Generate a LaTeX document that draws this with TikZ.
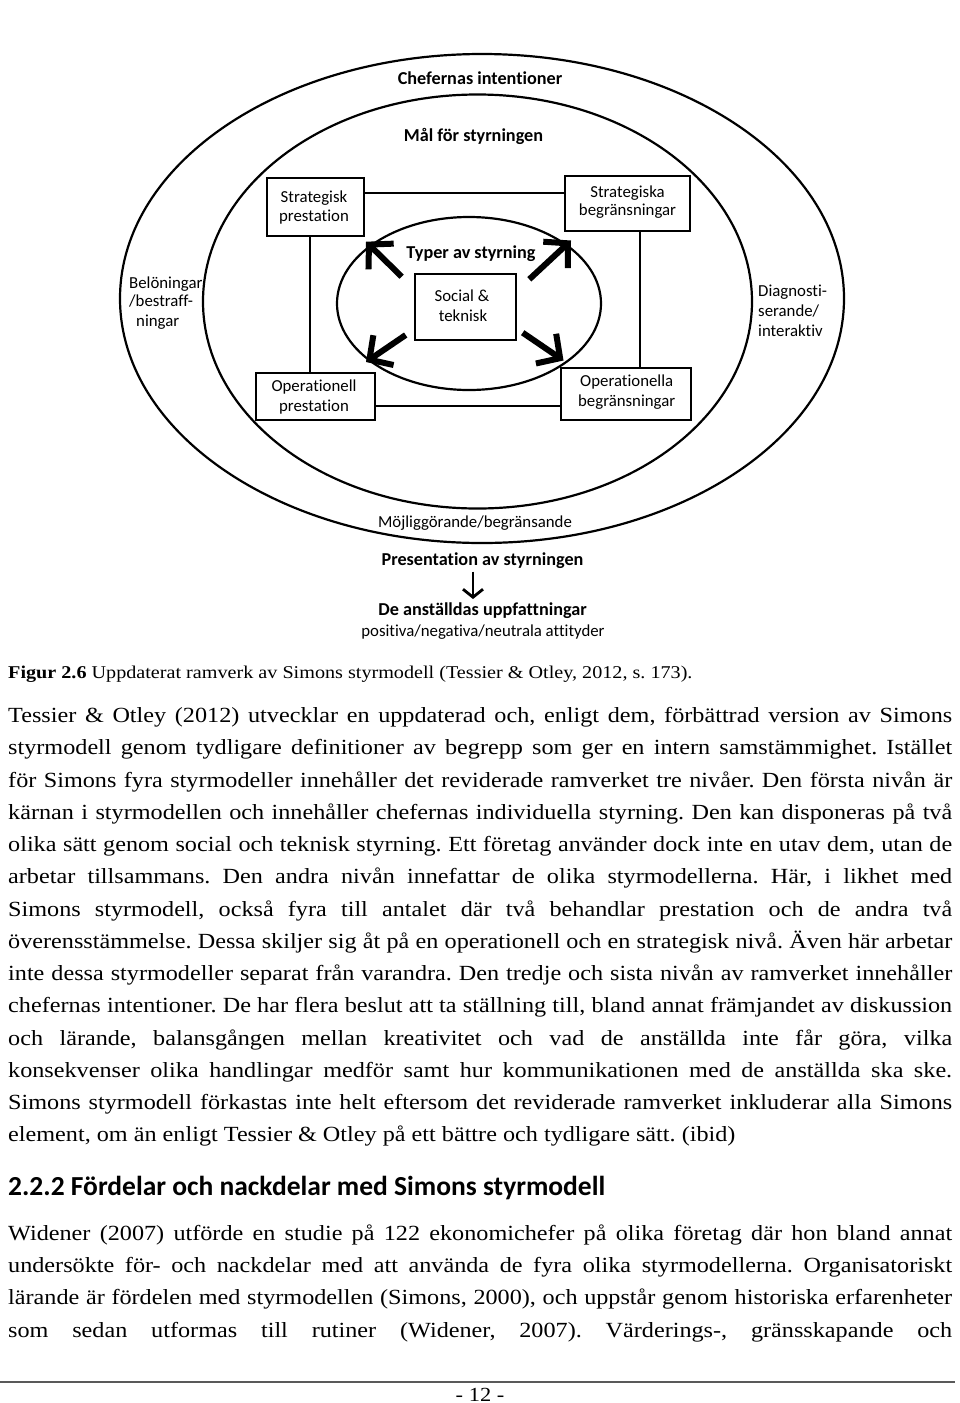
\documentclass[tikz,border=0pt]{standalone}
\usepackage{fontspec}
\setmainfont{Liberation Serif}[FakeStretch=1.12]
\newfontfamily\diagfont{Carlito}[Ligatures=NoCommon]
\usetikzlibrary{arrows.meta}
\frenchspacing
\tikzset{
  lbl/.style={inner sep=0, anchor=base, font=\diagfont\fontsize{16.8}{19}\selectfont},
  blbl/.style={inner sep=0, anchor=base, font=\diagfont\bfseries\fontsize{18.2}{20}\selectfont},
  boxnode/.style={draw, line width=2.3pt, inner sep=0, rectangle},
  ring/.style={draw, line width=2.2pt},
  conn/.style={draw, line width=1.9pt},
  bigarrow/.style={line width=6pt, -{Straight Barb[length=17pt,width=36pt]}},
  downarrow/.style={line width=2.8pt, -{Straight Barb[length=8pt,width=20pt]}},
  bodyline/.style={inner sep=0, anchor=base west, font=\fontsize{21.6}{26}\selectfont},
  capline/.style={inner sep=0, anchor=base west, font=\fontsize{18}{22}\selectfont},
}
\begin{document}
\begin{tikzpicture}[x=1pt,y=-1pt]
\useasboundingbox (0,0) rectangle (960,1403);
\fill[white] (0,0) rectangle (960,1403);

% ---------- diagram ----------
\draw[ring] (482,298.5) ellipse [x radius=362, y radius=244.5];
\draw[ring] (477.5,301.5) ellipse [x radius=274.5, y radius=207];
\draw[ring] (469,303.5) ellipse [x radius=132, y radius=86.5];

\node[blbl] (chef) at (480,84) {Chefernas intentioner};
\node[blbl] (mal) at (473.5,141.7) {Mål för styrningen};
\node[blbl] (typer) at (471,258.3) {Typer av styrning};

\node[boxnode, minimum width=97pt, minimum height=58pt] (sp) at (315.5,207) {};
\node[boxnode, minimum width=125pt, minimum height=55pt] (sb) at (627.5,203.5) {};
\node[boxnode, minimum width=119pt, minimum height=47pt] (op) at (315.5,396.5) {};
\node[boxnode, minimum width=130pt, minimum height=52pt] (ob) at (626,394) {};
\node[boxnode, minimum width=101pt, minimum height=66pt] (soc) at (465.5,307) {};

\node[lbl] (sp1) at (314,202.7) {Strategisk};
\node[lbl] (sp2) at (314,221) {prestation};
\node[lbl] (sb1) at (627.5,197.3) {Strategiska};
\node[lbl] (sb2) at (627.5,215.5) {begränsningar};
\node[lbl] (op1) at (314,391.7) {Operationell};
\node[lbl] (op2) at (314,411.7) {prestation};
\node[lbl] (ob1) at (626.7,386.7) {Operationella};
\node[lbl] (ob2) at (626.7,406.7) {begränsningar};
\node[lbl] (soc1) at (462,301.7) {Social \&};
\node[lbl] (soc2) at (463,321.7) {teknisk};

\draw[conn] (sp.east |- 0,193.3) -- (sb.west |- 0,193.3);
\draw[conn] (op.east |- 0,406) -- (ob.west |- 0,406);
\draw[conn] (sp.south -| 310,0) -- (op.north -| 310,0);
\draw[conn] (sb.south -| 640,0) -- (ob.north -| 640,0);

\coordinate (nwt) at (401.7,276.7);
\coordinate (nwh) at (366,241.7);
\coordinate (net) at (529.3,279.3);
\coordinate (neh) at (571,240.5);
\coordinate (swt) at (405.7,335);
\coordinate (swh) at (366,362);
\coordinate (set) at (522.7,332.7);
\coordinate (seh) at (563.5,360.5);
\draw[bigarrow] (nwt) -- (nwh);
\draw[bigarrow] (net) -- (neh);
\draw[bigarrow] (swt) -- (swh);
\draw[bigarrow] (set) -- (seh);

\node[lbl, anchor=base west] (bel1) at (129,288.3) {Belöningar};
\node[lbl, anchor=base west] (bel2) at (129,306.7) {/bestraff-};
\node[lbl, anchor=base west] (bel3) at (136,326.7) {ningar};
\node[lbl, anchor=base west] (dia1) at (758,296.7) {Diagnosti-};
\node[lbl, anchor=base west] (dia2) at (758,316.7) {serande/};
\node[lbl, anchor=base west] (dia3) at (758,336.7) {interaktiv};

\node[lbl] (moj) at (475,527.3) {Möjliggörande/begränsande};
\node[blbl] (pres) at (482.5,565) {Presentation av styrningen};
\coordinate (dat) at (473,571.5);
\coordinate (dah) at (473,599);
\draw[downarrow] (dat) -- (dah);
\node[blbl] (anst) at (482.5,615) {De anställdas uppfattningar};
\node[lbl] (att) at (483,636) {positiva/negativa/neutrala attityder};

% ---------- caption ----------
\node[capline] (cap) at (8,678.7) {\textbf{Figur 2.6} Uppdaterat ramverk av Simons styrmodell (Tessier \& Otley, 2012, s. 173).};

% ---------- paragraph 1 ----------
\node[bodyline] (l1) at (8,722.7) {\makebox[944pt][s]{Tessier \& Otley (2012) utvecklar en uppdaterad och, enligt dem, förbättrad version av Simons}};
\node[bodyline] (l2) at (8,754.95) {\makebox[944pt][s]{styrmodell genom tydligare definitioner av begrepp som ger en intern samstämmighet. Istället}};
\node[bodyline] (l3) at (8,787.2) {\makebox[944pt][s]{för Simons fyra styrmodeller innehåller det reviderade ramverket tre nivåer. Den första nivån är}};
\node[bodyline] (l4) at (8,819.45) {\makebox[944pt][s]{kärnan i styrmodellen och innehåller chefernas individuella styrning. Den kan disponeras på två}};
\node[bodyline] (l5) at (8,851.7) {\makebox[944pt][s]{olika sätt genom social och teknisk styrning. Ett företag använder dock inte en utav dem, utan de}};
\node[bodyline] (l6) at (8,883.95) {\makebox[944pt][s]{arbetar tillsammans. Den andra nivån innefattar de olika styrmodellerna. Här, i likhet med}};
\node[bodyline] (l7) at (8,916.2) {\makebox[944pt][s]{Simons styrmodell, också fyra till antalet där två behandlar prestation och de andra två}};
\node[bodyline] (l8) at (8,948.45) {\makebox[944pt][s]{överensstämmelse. Dessa skiljer sig åt på en operationell och en strategisk nivå. Även här arbetar}};
\node[bodyline] (l9) at (8,980.7) {\makebox[944pt][s]{inte dessa styrmodeller separat från varandra. Den tredje och sista nivån av ramverket innehåller}};
\node[bodyline] (l10) at (8,1012.95) {\makebox[944pt][s]{chefernas intentioner. De har flera beslut att ta ställning till, bland annat främjandet av diskussion}};
\node[bodyline] (l11) at (8,1045.2) {\makebox[944pt][s]{och lärande, balansgången mellan kreativitet och vad de anställda inte får göra, vilka}};
\node[bodyline] (l12) at (8,1077.45) {\makebox[944pt][s]{konsekvenser olika handlingar medför samt hur kommunikationen med de anställda ska ske.}};
\node[bodyline] (l13) at (8,1109.7) {\makebox[944pt][s]{Simons styrmodell förkastas inte helt eftersom det reviderade ramverket inkluderar alla Simons}};
\node[bodyline] (l14) at (8,1141.95) {element, om än enligt Tessier \& Otley på ett bättre och tydligare sätt. (ibid)};

% ---------- heading ----------
\node[inner sep=0, anchor=base west, font=\diagfont\bfseries\fontsize{27.5}{30}\selectfont] (head) at (8,1195) {2.2.2 Fördelar och nackdelar med Simons styrmodell};

% ---------- paragraph 2 ----------
\node[bodyline] (m1) at (8,1240) {\makebox[944pt][s]{Widener (2007) utförde en studie på 122 ekonomichefer på olika företag där hon bland annat}};
\node[bodyline] (m2) at (8,1272.4) {\makebox[944pt][s]{undersökte för- och nackdelar med att använda de fyra olika styrmodellerna. Organisatoriskt}};
\node[bodyline] (m3) at (8,1304.8) {\makebox[944pt][s]{lärande är fördelen med styrmodellen (Simons, 2000), och uppstår genom historiska erfarenheter}};
\node[bodyline] (m4) at (8,1337.2) {\makebox[944pt][s]{som sedan utformas till rutiner (Widener, 2007). Värderings-, gränsskapande och}};

% ---------- footer ----------
\coordinate (rl) at (0,1381.5);
\coordinate (rr) at (955,1381.5);
\draw[line width=2pt, black!65] (rl) -- (rr);
\node[inner sep=0, anchor=base, font=\fontsize{20}{22}\selectfont] (pg) at (480,1401) {- 12 -};
\end{tikzpicture}
\end{document}
